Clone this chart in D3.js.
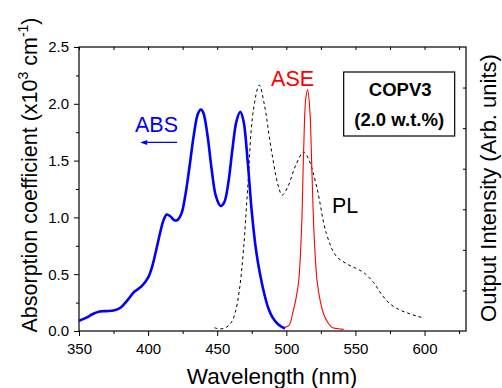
<!DOCTYPE html>
<html>
<head>
<meta charset="utf-8">
<script src="https://cdn.jsdelivr.net/npm/d3@7"></script>
<style>
  html, body { margin: 0; padding: 0; background: #fff; }
  svg { display: block; font-family: "Liberation Sans", Arial, sans-serif; }
</style>
</head>
<body>
<div id="chart"></div>
<script>
// Absorption (left axis, x10^3 cm^-1) vs wavelength (nm)
var absWave = [350, 355, 360, 365, 370, 375, 380, 385, 390, 395, 400, 403, 406, 409, 411, 413.5, 416, 419, 421, 424, 427, 430, 433, 436, 438.2, 440, 443, 446, 449, 452.4, 455, 458, 461, 464, 466.7, 469, 472, 475, 478, 481, 484, 487, 490, 494, 499];
var absValue = [0.09, 0.115, 0.15, 0.172, 0.175, 0.18, 0.205, 0.27, 0.345, 0.39, 0.47, 0.57, 0.72, 0.88, 0.97, 1.025, 1.01, 0.975, 0.975, 1.03, 1.2, 1.45, 1.72, 1.91, 1.95, 1.92, 1.72, 1.42, 1.19, 1.10, 1.13, 1.3, 1.6, 1.85, 1.93, 1.85, 1.5, 1.05, 0.72, 0.5, 0.33, 0.2, 0.12, 0.06, 0.02];

// PL and ASE (right axis, arb. units)
var plWave = [448, 452, 456, 460, 463, 466, 469, 472, 476, 480.4, 484, 489, 494, 497, 501, 507, 512.5, 516, 522, 529, 536, 544, 550, 556, 563, 569, 575, 582, 588, 594, 600];
var plValue = [0.08, 0.05, 0.08, 0.2, 0.45, 1.0, 2.0, 3.5, 5.4, 6.06, 5.6, 4.5, 3.6, 3.35, 3.55, 4.1, 4.41, 4.25, 3.55, 2.4, 1.85, 1.65, 1.55, 1.44, 1.2, 0.9, 0.67, 0.52, 0.44, 0.37, 0.32];
var aseWave = [498.6, 502, 505, 507, 509, 511, 512.5, 514, 515.4, 517, 518.5, 520, 522.2, 524.5, 527, 530, 533, 537, 541.5];
var aseValue = [0.09, 0.14, 0.5, 0.8, 1.25, 2.5, 4.4, 5.7, 5.95, 5.45, 3.96, 2.45, 1.25, 0.75, 0.42, 0.21, 0.09, 0.06, 0.04];

var xTicks = [350, 400, 450, 500, 550, 600];
var yTicks = [0, 0.5, 1.0, 1.5, 2.0, 2.5];

var W = 502, H = 388;
var margin = { top: 47, right: 36, bottom: 57, left: 79 };
var width = W - margin.left - margin.right;
var height = H - margin.top - margin.bottom;

var svg = d3.select('#chart').append('svg').attr('width', W).attr('height', H);
var g = svg.append('g').attr('transform', 'translate(' + margin.left + ',' + margin.top + ')');

var x = d3.scaleLinear().domain([350, 630]).range([0, width]);
var y = d3.scaleLinear().domain([0, 2.5]).range([height, 0]);
var y2 = d3.scaleLinear().domain([0, 7]).range([height, 0]);

// minor ticks
var xMinor = d3.range(375, 630, 50);
var yMinor = d3.range(0.25, 2.5, 0.5);

function styleAxis(sel) {
    sel.selectAll('.domain').remove();
    sel.selectAll('line').attr('stroke', '#000').attr('stroke-width', 1);
    sel.selectAll('text').attr('font-size', 15).attr('fill', '#000').style('font-family', '"Liberation Sans", Arial, sans-serif');
}

// bottom axis
g.append('g').attr('transform', 'translate(0,' + height + ')')
    .call(d3.axisBottom(x).tickValues(xTicks).tickFormat(d3.format('d')).tickSize(5).tickPadding(7))
    .call(styleAxis);
g.append('g').attr('transform', 'translate(0,' + height + ')')
    .call(d3.axisBottom(x).tickValues(xMinor).tickFormat('').tickSize(3))
    .call(styleAxis);
// top axis (inward ticks)
g.append('g')
    .call(d3.axisBottom(x).tickValues(xTicks.concat(xMinor)).tickFormat('').tickSize(3))
    .call(styleAxis);

// left axis
g.append('g')
    .call(d3.axisLeft(y).tickValues(yTicks).tickFormat(d3.format('.1f')).tickSize(5).tickPadding(5))
    .call(styleAxis);
g.append('g')
    .call(d3.axisLeft(y).tickValues(yMinor).tickFormat('').tickSize(3))
    .call(styleAxis);

// right axis, unlabeled
g.append('g').attr('transform', 'translate(' + width + ',0)')
    .call(d3.axisLeft(y2).tickValues(d3.range(1, 7)).tickFormat('').tickSize(3))
    .call(styleAxis);

// frame
g.append('rect').attr('x', 0).attr('y', 0).attr('width', width).attr('height', height)
    .attr('fill', 'none').attr('stroke', '#000').attr('stroke-width', 1.2);

// curves
var lineAbs = d3.line().x(function(d) { return x(d[0]); }).y(function(d) { return y(d[1]); }).curve(d3.curveCatmullRom);
var lineRight = d3.line().x(function(d) { return x(d[0]); }).y(function(d) { return y2(d[1]); }).curve(d3.curveCatmullRom);

g.append('path').datum(d3.zip(plWave, plValue)).attr('d', lineRight)
    .attr('fill', 'none').attr('stroke', '#000').attr('stroke-width', 1).attr('stroke-dasharray', '3,3');
g.append('path').datum(d3.zip(aseWave, aseValue)).attr('d', lineRight)
    .attr('fill', 'none').attr('stroke', '#ff0000').attr('stroke-width', 1.1);
g.append('path').datum(d3.zip(absWave, absValue)).attr('d', lineAbs)
    .attr('fill', 'none').attr('stroke', '#0000ff').attr('stroke-width', 2.6);

// annotations
g.append('text').attr('x', x(390.5)).attr('y', y(1.75)).attr('font-size', 21.5).attr('fill', '#0000ff').text('ABS');
g.append('line').attr('x1', x(421)).attr('x2', x(396)).attr('y1', y(1.66)).attr('y2', y(1.66))
    .attr('stroke', '#0000ff').attr('stroke-width', 1.2);
g.append('path').attr('d', 'M' + (x(395) - 1) + ',' + y(1.66) + ' l7,-2.5 l0,5 Z').attr('fill', '#0000ff');

g.append('text').attr('x', x(489)).attr('y', y2(6.03)).attr('font-size', 21.5).attr('fill', '#ff0000').text('ASE');
g.append('text').attr('x', x(533)).attr('y', y2(2.9)).attr('font-size', 21.5).attr('fill', '#000').text('PL');

// sample box
var bx = x(541.5), by = 25, bw = 111, bh = 64;
g.append('rect').attr('x', bx).attr('y', by).attr('width', bw).attr('height', bh)
    .attr('fill', '#fff').attr('stroke', '#000').attr('stroke-width', 1.2);
g.append('text').attr('x', bx + bw / 2 + 1).attr('y', by + 24).attr('text-anchor', 'middle')
    .attr('font-size', 18.5).attr('font-weight', 'bold').text('COPV3');
g.append('text').attr('x', bx + bw / 2).attr('y', by + 54).attr('text-anchor', 'middle')
    .attr('font-size', 18.5).attr('font-weight', 'bold').text('(2.0 w.t.%)');

// axis titles
svg.append('text').attr('x', 272).attr('y', 384).attr('text-anchor', 'middle')
    .attr('font-size', 22.5).text('Wavelength (nm)');

var yl = svg.append('text').attr('transform', 'translate(37,175) rotate(-90)').attr('text-anchor', 'middle').attr('font-size', 21.5);
yl.append('tspan').text('Absorption coefficient (x10');
yl.append('tspan').attr('font-size', 14).attr('dy', -9).text('3');
yl.append('tspan').attr('dy', 9).text(' cm');
yl.append('tspan').attr('font-size', 14).attr('dy', -9).text('-1');
yl.append('tspan').attr('dy', 9).text(')');

svg.append('text').attr('transform', 'translate(496,188) rotate(-90)').attr('text-anchor', 'middle')
    .attr('font-size', 22).text('Output Intensity (Arb. units)');
</script>
</body>
</html>
